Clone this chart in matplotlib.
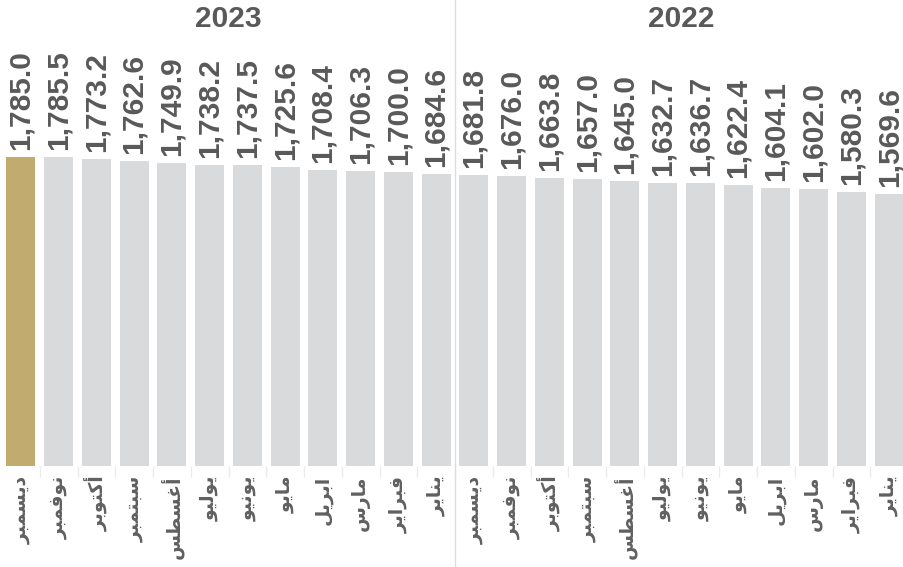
import numpy as np
import matplotlib.pyplot as plt
import matplotlib.transforms as mtransforms

# months from december 2023 back to january 2022
months = ['ديسمبر', 'نوفمبر', 'أكتوبر', 'سبتمبر', 'أغسطس', 'يوليو',
          'يونيو', 'مايو', 'ابريل', 'مارس', 'فبراير', 'يناير'] * 2
values = [1785.0, 1785.5, 1773.2, 1762.6, 1749.9, 1738.2,
          1737.5, 1725.6, 1708.4, 1706.3, 1700.0, 1684.6,
          1681.8, 1676.0, 1663.8, 1657.0, 1645.0, 1632.7,
          1636.7, 1622.4, 1604.1, 1602.0, 1580.3, 1569.6]
years = ['2023', '2022']

# matplotlib does no arabic shaping, so map letters to presentation forms
# (isolated, final, initial, medial) and put them in visual order
forms = {
    'ا': (0xFE8D, 0xFE8E, None, None),
    'أ': (0xFE83, 0xFE84, None, None),
    'ب': (0xFE8F, 0xFE90, 0xFE91, 0xFE92),
    'ت': (0xFE95, 0xFE96, 0xFE97, 0xFE98),
    'د': (0xFEA9, 0xFEAA, None, None),
    'ر': (0xFEAD, 0xFEAE, None, None),
    'س': (0xFEB1, 0xFEB2, 0xFEB3, 0xFEB4),
    'ط': (0xFEC1, 0xFEC2, 0xFEC3, 0xFEC4),
    'غ': (0xFECD, 0xFECE, 0xFECF, 0xFED0),
    'ف': (0xFED1, 0xFED2, 0xFED3, 0xFED4),
    'ك': (0xFED9, 0xFEDA, 0xFEDB, 0xFEDC),
    'ل': (0xFEDD, 0xFEDE, 0xFEDF, 0xFEE0),
    'م': (0xFEE1, 0xFEE2, 0xFEE3, 0xFEE4),
    'ن': (0xFEE5, 0xFEE6, 0xFEE7, 0xFEE8),
    'و': (0xFEED, 0xFEEE, None, None),
    'ي': (0xFEF1, 0xFEF2, 0xFEF3, 0xFEF4),
}

def shape(word):
    out = []
    for i, ch in enumerate(word):
        f = forms[ch]
        prev = i > 0 and forms[word[i - 1]][2] is not None
        nxt = i < len(word) - 1 and f[2] is not None
        if prev and nxt:
            c = f[3]
        elif prev:
            c = f[1]
        elif nxt:
            c = f[2]
        else:
            c = f[0]
        out.append(chr(c))
    return ''.join(out[::-1])

gold = '#c2ab6e'
grey = '#d9dadc'
txt = '#595959'

fig = plt.figure(figsize=(9.04, 5.67), dpi=100)
ax = fig.add_axes([2 / 904, 101 / 567, 906 / 904, 466 / 567])

x = np.arange(len(values))
colors = [gold] + [grey] * (len(values) - 1)
ax.bar(x, values, width=0.77, color=colors)
ax.set_xlim(-0.5, len(values) - 0.5)
ax.set_ylim(0, 2692)

for xi, v in zip(x, values):
    ax.annotate(f'{v:,.1f}', (xi, v), xytext=(0, 5), textcoords='offset points',
                rotation=90, ha='center', va='bottom', fontsize=21.5,
                fontweight='bold', color=txt, family='Liberation Sans')

ax.set_xticks(x)
ax.set_xticklabels([shape(m) for m in months], rotation=90, fontsize=13.5,
                   fontweight='bold', color='#606060', family='DejaVu Sans')
ax.tick_params(axis='x', length=0, pad=7)
ax.set_xticks(x[:-1] + 0.5, minor=True)
ax.tick_params(axis='x', which='minor', length=8, color='#ebebeb', width=1)
ax.set_yticks([])
for s in ax.spines.values():
    s.set_visible(False)

# separator between the two years, full figure height
trans = mtransforms.blended_transform_factory(ax.transData, fig.transFigure)
ax.plot([11.5, 11.5], [0, 1], transform=trans, color='#dddddd', lw=1, clip_on=False)

head = mtransforms.blended_transform_factory(ax.transData, ax.transAxes)
ax.text(5.5, 1 - 19 / 466, years[0], ha='center', va='center', fontsize=21.5,
        fontweight='bold', color=txt, family='Liberation Sans', transform=head)
ax.text(17.5, 1 - 19 / 466, years[1], ha='center', va='center', fontsize=21.5,
        fontweight='bold', color=txt, family='Liberation Sans', transform=head)

plt.savefig('out.png', dpi=100)
